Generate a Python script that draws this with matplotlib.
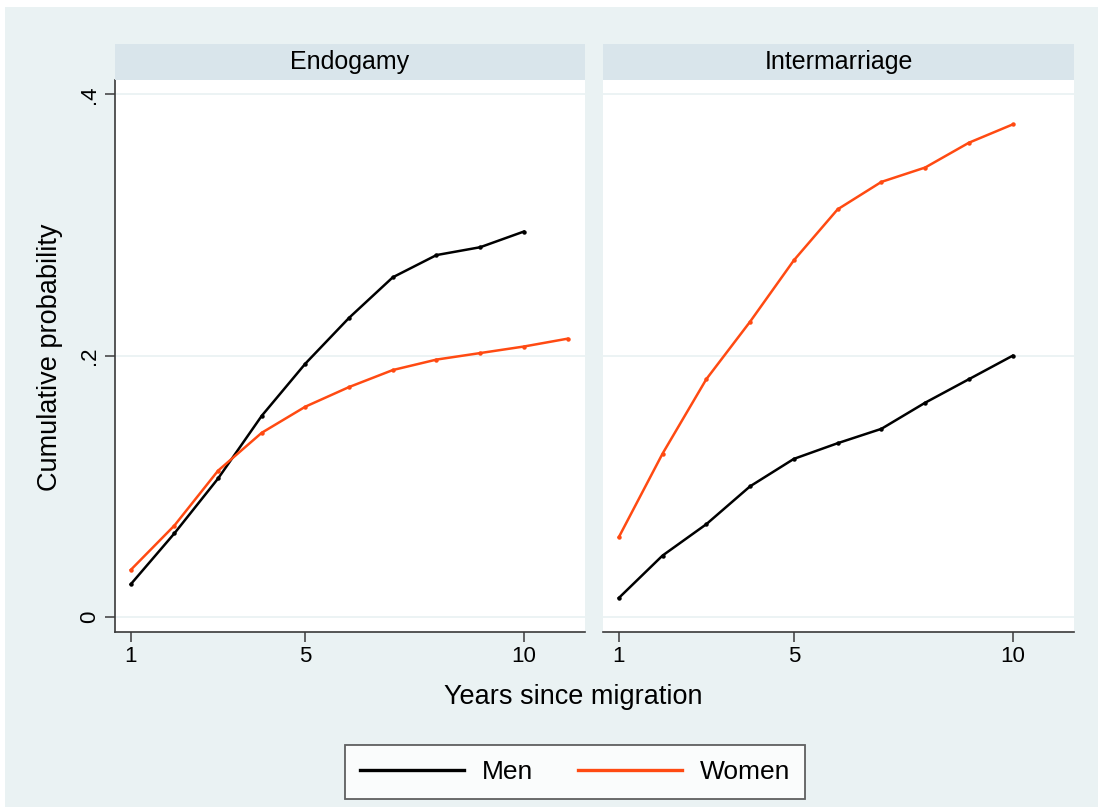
import matplotlib
matplotlib.use('Agg')
import matplotlib.pyplot as plt
from matplotlib.patches import Rectangle
from matplotlib.lines import Line2D

plt.rcParams['font.family'] = ['Liberation Sans', 'DejaVu Sans']

# Datos
years_endo_men = [1, 2, 3, 4, 5, 6, 7, 8, 9, 10]
endo_men = [0.025, 0.064, 0.106, 0.154, 0.194, 0.229, 0.260, 0.277, 0.283, 0.295]
years_endo_women = [1, 2, 3, 4, 5, 6, 7, 8, 9, 10, 11]
endo_women = [0.036, 0.070, 0.112, 0.141, 0.161, 0.176, 0.189, 0.197, 0.202, 0.207, 0.213]

years_inter = [1, 2, 3, 4, 5, 6, 7, 8, 9, 10]
inter_men = [0.0145, 0.047, 0.071, 0.100, 0.121, 0.133, 0.144, 0.164, 0.182, 0.200]
inter_women = [0.061, 0.125, 0.182, 0.226, 0.273, 0.312, 0.333, 0.344, 0.363, 0.377]

panel_titles = ['Endogamy', 'Intermarriage']
x_ticks = [1, 5, 10]
y_ticks = [0, 0.2, 0.4]
y_ticklabels = ['0', '.2', '.4']

# Colores
BG = '#EAF2F3'
STRIP = '#D9E5EB'
GRID = '#EAF2F3'
AXIS = '#3A3A3A'
C_MEN = '#000000'
C_WOMEN = '#FF4A12'

W, H = 1101, 807
fig = plt.figure(figsize=(W / 100, H / 100), dpi=100, facecolor='white')
fig.patches.append(Rectangle((5 / W, 0), 1093 / W, 1 - 7 / H, transform=fig.transFigure,
                             facecolor=BG, edgecolor='none', zorder=-10))

def px_box(x0, x1, y_top, y_bot):
    return [x0 / W, 1 - y_bot / H, (x1 - x0) / W, (y_bot - y_top) / H]

panels = [(115, 585), (603, 1074)]
axes = []
for i, (x0, x1) in enumerate(panels):
    ax = fig.add_axes(px_box(x0, x1, 80, 632))
    ax.set_facecolor('white')
    ax.set_xlim(0.64, 11.4)
    ax.set_ylim(-0.0115, 0.411)
    for y in y_ticks:
        ax.axhline(y, color=GRID, lw=1.3, zorder=0)
    ax.spines['top'].set_visible(False)
    ax.spines['right'].set_visible(False)
    ax.spines['bottom'].set_color(AXIS)
    ax.spines['bottom'].set_linewidth(1.2)
    ax.set_xticks(x_ticks)
    ax.tick_params(axis='x', length=7, width=1.1, color=AXIS, pad=3, labelsize=16)
    if i == 0:
        ax.spines['left'].set_color(AXIS)
        ax.spines['left'].set_linewidth(1.2)
        ax.set_yticks(y_ticks)
        ax.set_yticklabels(y_ticklabels, rotation=90, va='center')
        ax.tick_params(axis='y', length=7, width=1.1, color=AXIS, pad=4, labelsize=16)
    else:
        ax.spines['left'].set_visible(False)
        ax.set_yticks([])
    # franja del titulo
    sax = fig.add_axes(px_box(x0, x1, 44, 80))
    sax.set_facecolor(STRIP)
    sax.set_xticks([])
    sax.set_yticks([])
    for s in sax.spines.values():
        s.set_visible(False)
    sax.text(0.5, 0.5, panel_titles[i], ha='center', va='center', fontsize=18,
             transform=sax.transAxes)
    axes.append(ax)

ax1, ax2 = axes
ax1.plot(years_endo_men, endo_men, color=C_MEN, lw=1.8, marker='o', ms=2.2)
ax1.plot(years_endo_women, endo_women, color=C_WOMEN, lw=1.8, marker='o', ms=2.2)
ax2.plot(years_inter, inter_men, color=C_MEN, lw=1.8, marker='o', ms=2.2)
ax2.plot(years_inter, inter_women, color=C_WOMEN, lw=1.8, marker='o', ms=2.2)

fig.text(50 / W, 1 - 357 / H, 'Cumulative probability', rotation=90,
         ha='center', va='center', fontsize=19.5)
fig.text(573 / W, 1 - 697 / H, 'Years since migration', ha='center', va='center',
         fontsize=19.5)

handles = [Line2D([], [], color=C_MEN, lw=2.4), Line2D([], [], color=C_WOMEN, lw=2.4)]
leg = fig.legend(handles, ['Men', 'Women'], loc='center', ncol=2,
                 bbox_to_anchor=(575 / W, 1 - 772 / H), fontsize=19,
                 frameon=True, fancybox=False, handlelength=3.95,
                 handletextpad=0.68, columnspacing=1.7, borderpad=0.55)
leg.get_frame().set_edgecolor(AXIS)
leg.get_frame().set_linewidth(1.3)
leg.get_frame().set_facecolor('white')

plt.savefig('out.png', dpi=100, facecolor='white')
